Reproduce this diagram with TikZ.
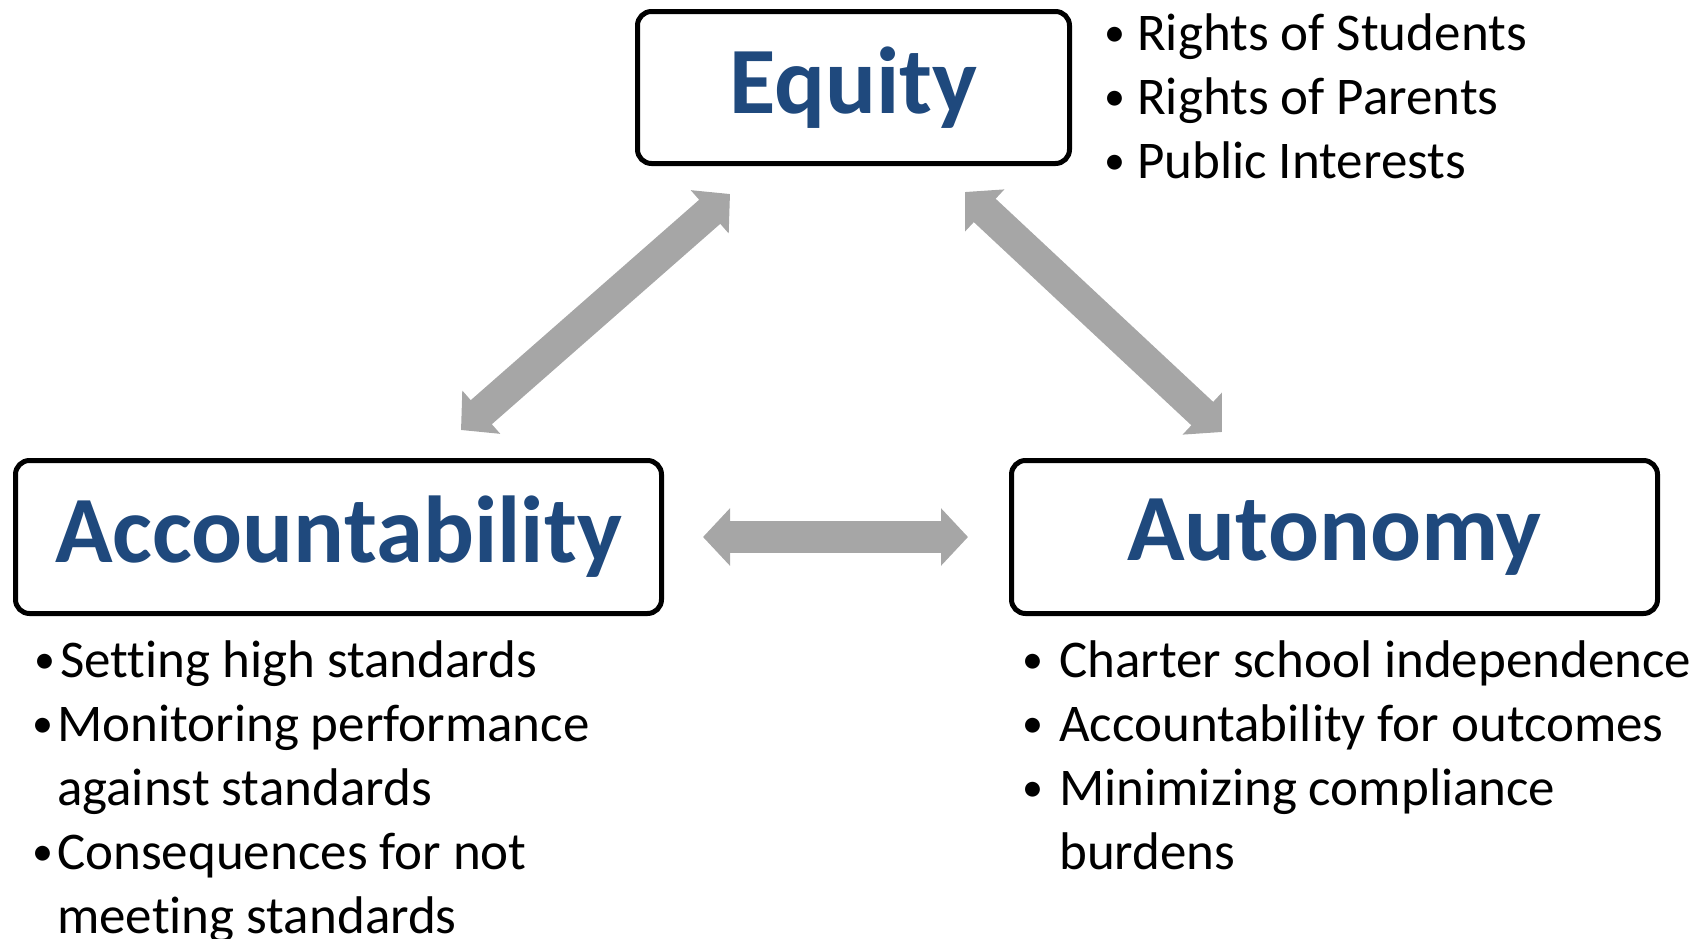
\documentclass[tikz,border=0pt]{standalone}
\usepackage{fontspec}
\setmainfont{Carlito}[Ligatures=CommonOff]
\usetikzlibrary{arrows.meta}
\definecolor{titleblue}{HTML}{1F497D}
\definecolor{arrowgray}{HTML}{A6A6A6}
\tikzset{
  box/.style={draw=black, line width=5pt, rounded corners=14pt, fill=white,
    inner sep=0pt, text=titleblue, font=\fontsize{95}{114}\selectfont\bfseries},
  bigarrow/.style={draw=arrowgray, line width=32pt,
    {Triangle[length=27pt,width=56pt]}-{Triangle[length=27pt,width=56pt]}},
  listline/.style={anchor=base west, inner sep=0pt, font=\fontsize{53}{64}\selectfont, text=black},
}
\newcommand{\bul}[1]{\makebox[#1][l]{\raisebox{4pt}{\fontsize{42}{42}\selectfont •}}}
\begin{document}
\begin{tikzpicture}[x=1pt,y=1pt]
\useasboundingbox (0,0) rectangle (1706,-938);
% boxes
\node[box, minimum width=432pt, minimum height=152pt] (eq) at (853.5,-87.5) {Equity};
\node[box, minimum width=646pt, minimum height=153pt] (acc) at (338.5,-537) {Accountability};
\node[box, minimum width=646pt, minimum height=153pt] (aut) at (1334.5,-537) {Autonomy};
% arrow end points
\coordinate (eqL) at (730,-194);
\coordinate (accT) at (461,-430);
\coordinate (eqR) at (965,-192);
\coordinate (autT) at (1222,-432);
\draw[bigarrow] (eqL) -- (accT);
\draw[bigarrow] (eqR) -- (autT);
\draw[bigarrow, shorten <=39pt, shorten >=41pt] (acc.east) -- (aut.west);
% equity list
\node[listline] (e1) at (1104,-50) {\bul{33pt}Rights of Students};
\node[listline] (e2) at (1104,-114) {\bul{33pt}Rights of Parents};
\node[listline] (e3) at (1104,-178) {\bul{33pt}Public Interests};
% accountability list
\node[listline] (a1) at (34,-677) {\bul{26pt}Setting high standards};
\node[listline] (a2) at (32,-741) {\bul{25pt}Monitoring performance};
\node[listline] (a3) at (57,-805) {against standards};
\node[listline] (a4) at (32,-869) {\bul{25pt}Consequences for not};
\node[listline] (a5) at (57,-933) {meeting standards};
% autonomy list
\node[listline] (u1) at (1022,-677) {\bul{37pt}Charter school independence};
\node[listline] (u2) at (1022,-741) {\bul{37pt}Accountability for outcomes};
\node[listline] (u3) at (1022,-805) {\bul{37pt}Minimizing compliance};
\node[listline] (u4) at (1059,-869) {burdens};
\end{tikzpicture}
\end{document}
